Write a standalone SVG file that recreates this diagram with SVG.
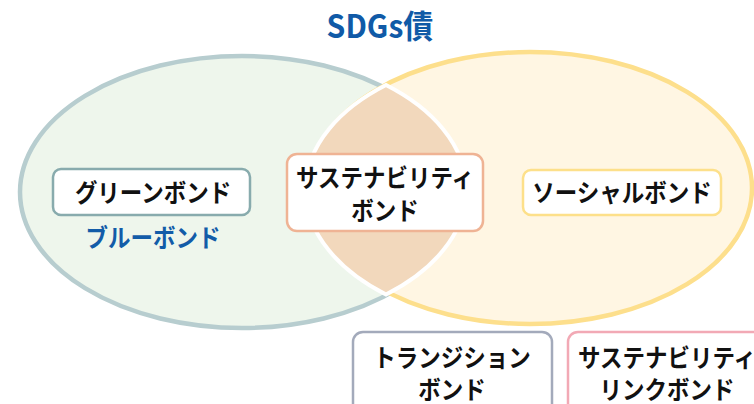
<svg xmlns="http://www.w3.org/2000/svg" width="754" height="404" viewBox="0 0 754 404">
<style>
.t{font-family:"Noto Sans CJK JP","Noto Sans",sans-serif;font-weight:bold;font-size:25px;text-anchor:middle;fill:#111}
.box{fill:#fff;stroke-width:2.5}
</style>
<rect width="754" height="404" fill="#fff"/>
<g id="left-circle">
<ellipse cx="242" cy="192" rx="222" ry="136" fill="#eef6ec" stroke="#b7cdcf" stroke-width="4.5"/>
</g>
<g id="right-circle">
<ellipse cx="530" cy="188" rx="222" ry="136" fill="#fff6e3" stroke="#fddf8c" stroke-width="4.5"/>
</g>
<g id="overlap">
<path d="M386 85 A222 136 0 0 1 386 294.5 A222 136 0 0 1 386 85 Z" fill="#f2d8bc" stroke="#fff" stroke-width="4"/>
</g>
<g id="title">
<text transform="translate(380 38) scale(0.94 1)" font-family="'Noto Sans CJK JP','Noto Sans',sans-serif" font-weight="bold" font-size="32" fill="#105aa7" text-anchor="middle">SDGs債</text>
</g>
<g id="green-bond">
<rect class="box" x="53" y="169" width="197" height="46" rx="8" stroke="#88abad"/>
<text class="t" transform="translate(153 202) scale(0.9 1)">グリーンボンド</text>
</g>
<g id="blue-bond">
<text class="t" transform="translate(153 247) scale(0.9 1)" style="fill:#125ca8">ブルーボンド</text>
</g>
<g id="sustainability-bond">
<rect class="box" x="287" y="154" width="196" height="77" rx="10" stroke="#efb394" stroke-width="3"/>
<text class="t" transform="translate(385 187) scale(0.9 1)">サステナビリティ</text>
<text class="t" transform="translate(385 220) scale(0.9 1)">ボンド</text>
</g>
<g id="social-bond">
<rect class="box" x="523" y="170" width="198" height="45" rx="8" stroke="#fde08a"/>
<text class="t" transform="translate(622 202) scale(0.9 1)">ソーシャルボンド</text>
</g>
<g id="transition-bond">
<rect class="box" x="353" y="332" width="199" height="90" rx="10" stroke="#a3aabb"/>
<text class="t" transform="translate(452 367) scale(0.9 1)">トランジション</text>
<text class="t" transform="translate(452 399) scale(0.9 1)">ボンド</text>
</g>
<g id="sll-bond">
<rect class="box" x="568" y="332" width="199" height="90" rx="10" stroke="#f2a9b5"/>
<text class="t" transform="translate(667 367) scale(0.9 1)">サステナビリティ</text>
<text class="t" transform="translate(667 399) scale(0.9 1)">リンクボンド</text>
</g>
<g id="connectors"></g>
</svg>
